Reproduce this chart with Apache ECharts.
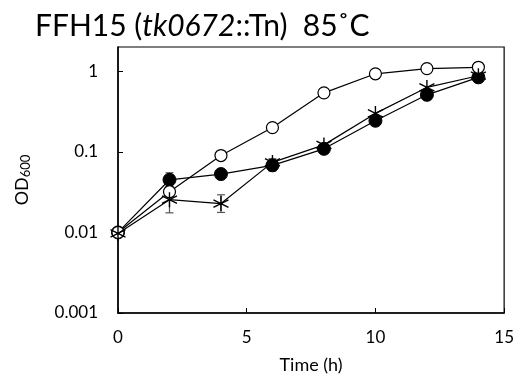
<!DOCTYPE html>
<html><head><meta charset="utf-8">
<script src="https://cdn.jsdelivr.net/npm/echarts@6/dist/echarts.min.js"></script>
<style>html,body{margin:0;padding:0;background:#fff}#c{width:517px;height:385px}</style>
</head><body><div id="c"></div>
<script>
var times = [0, 2, 4, 6, 8, 10, 12, 14];
var openCircle = [0.010, 0.032, 0.090, 0.20, 0.54, 0.93, 1.08, 1.12];
var filledCircle = [0.010, 0.045, 0.053, 0.068, 0.109, 0.243, 0.51, 0.84];
var asterisk = [0.0097, 0.0255, 0.0228, 0.074, 0.122, 0.30, 0.63, 0.88];
// error bars: [time, low, high]
var filledErr = [[2, 0.037, 0.055], [6, 0.058, 0.077]];
var asteriskErr = [[2, 0.0175, 0.037], [4, 0.0177, 0.0293], [6, 0.064, 0.082]];
var xTicks = [0, 5, 10, 15];
var yTicks = [0.001, 0.01, 0.1, 1];

function pairs(ys){ return times.map(function(t,i){ return [t, ys[i]]; }); }

var FONT = 'Lato';
var starPath = 'path://M0,-10L0,10M-8.66,-5L8.66,5M-8.66,5L8.66,-5';

function errSeries(data){
  return {
    type: 'custom', data: data, z: 1,
    renderItem: function(params, api){
      var t = api.value(0);
      var lo = api.coord([t, api.value(1)]);
      var hi = api.coord([t, api.value(2)]);
      var w = 4;
      var st = {stroke: '#555', lineWidth: 1.2};
      return {type: 'group', children: [
        {type: 'line', shape: {x1: lo[0], y1: lo[1], x2: hi[0], y2: hi[1]}, style: st},
        {type: 'line', shape: {x1: lo[0]-w, y1: lo[1], x2: lo[0]+w, y2: lo[1]}, style: st},
        {type: 'line', shape: {x1: hi[0]-w, y1: hi[1], x2: hi[0]+w, y2: hi[1]}, style: st}
      ]};
    }
  };
}

var chart = echarts.init(document.getElementById('c'));
chart.setOption({
  animation: false,
  title: {
    text: '{n|FFH15 (}{i|tk0672}{n|::Tn)  85˚C}',
    left: 30, top: 6,
    textStyle: {
      fontWeight: 'normal',
      rich: {
        n: {fontFamily: FONT, fontSize: 30, color: '#000', fontWeight: 'normal'},
        i: {fontFamily: FONT, fontSize: 30, color: '#000', fontStyle: 'italic', fontWeight: 'normal'}
      }
    }
  },
  grid: {left: 118, right: 12, top: 47, bottom: 72, show: true, borderColor: '#000', borderWidth: 1.2, containLabel: false},
  xAxis: {
    type: 'value', min: 0, max: 15, interval: 5,
    name: 'Time (h)', nameLocation: 'middle', nameGap: 43,
    nameTextStyle: {fontFamily: FONT, fontSize: 18, color: '#000'},
    axisLine: {show: true, lineStyle: {color: '#000', width: 1.5}},
    axisTick: {show: true, inside: true, length: 5, lineStyle: {color: '#000'}},
    axisLabel: {fontFamily: FONT, fontSize: 17, color: '#000', margin: 16,
      formatter: function(v){ return xTicks.indexOf(v) >= 0 ? String(v) : ''; }},
    splitLine: {show: false}
  },
  yAxis: {
    type: 'log', logBase: 10, min: 0.001, max: 2,
    name: '{a|OD}{b|600}', nameLocation: 'middle', nameGap: 86, nameRotate: 90,
    nameTextStyle: {rich: {
      a: {fontFamily: FONT, fontSize: 18, color: '#000'},
      b: {fontFamily: FONT, fontSize: 13, color: '#000', padding: [6, 0, 0, 0]}
    }},
    axisLine: {show: true, lineStyle: {color: '#000', width: 1.5}},
    axisTick: {show: true, inside: true, length: 5, lineStyle: {color: '#000'}},
    axisLabel: {fontFamily: FONT, fontSize: 17, color: '#000', margin: 20,
      showMaxLabel: false,
      formatter: function(v){
        for (var i = 0; i < yTicks.length; i++) {
          if (Math.abs(v - yTicks[i]) < yTicks[i] * 1e-6) return String(yTicks[i]);
        }
        return '';
      }},
    splitLine: {show: false}
  },
  series: [
    errSeries(filledErr),
    errSeries(asteriskErr),
    {
      type: 'line', data: pairs(filledCircle), z: 2,
      symbol: 'circle', symbolSize: 13,
      lineStyle: {color: '#000', width: 1.2},
      itemStyle: {color: '#000', borderColor: '#000', borderWidth: 1}
    },
    {
      type: 'line', data: pairs(openCircle), z: 3,
      symbol: 'circle', symbolSize: 12,
      lineStyle: {color: '#000', width: 1.2},
      itemStyle: {color: '#fff', borderColor: '#000', borderWidth: 1.2}
    },
    {
      type: 'line', data: pairs(asterisk), z: 4,
      symbol: starPath, symbolSize: 15,
      lineStyle: {color: '#000', width: 1.2},
      itemStyle: {color: 'none', borderColor: '#000', borderWidth: 1.4}
    }
  ]
});
</script></body></html>
